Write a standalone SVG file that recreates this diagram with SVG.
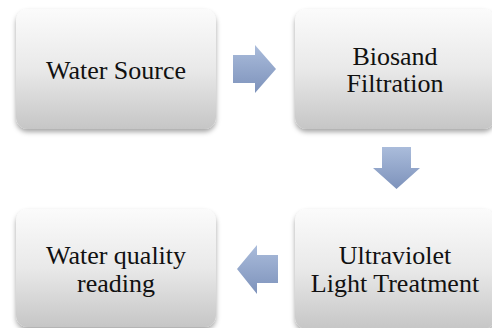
<svg xmlns="http://www.w3.org/2000/svg" width="492" height="328" viewBox="0 0 492 328">
<defs>
<linearGradient id="boxg" x1="0" y1="0" x2="0" y2="1">
<stop offset="0" stop-color="#fbfbfb"/>
<stop offset="0.5" stop-color="#e9e9e9"/>
<stop offset="1" stop-color="#c6c6c6"/>
</linearGradient>
<linearGradient id="arrg" x1="0" y1="0" x2="0" y2="1">
<stop offset="0" stop-color="#aabcdb"/>
<stop offset="1" stop-color="#7d92bb"/>
</linearGradient>
<filter id="sh" x="-10%" y="-10%" width="120%" height="130%">
<feDropShadow dx="0" dy="3" stdDeviation="2.5" flood-color="#000" flood-opacity="0.35"/>
</filter>
</defs>
<style>
.box{fill:url(#boxg);filter:url(#sh);}
.arr{fill:url(#arrg);}
.lbl{font-size:26px;fill:#111;text-anchor:middle;}
</style>
<rect width="492" height="328" fill="#fff"/>
<g id="connectors">
<polygon class="arr" points="233,55 255,55 255,45 276,69 255,93 255,83 233,83"/>
<polygon class="arr" points="382,147 411,147 411,168 420,168 396.5,189 373,168 382,168"/>
<polygon class="arr" points="278,255 257,255 257,245 237,269 257,294 257,283 278,283"/>
</g>
<g font-family="Liberation Serif, DejaVu Serif, serif">
<g id="water-source">
<rect class="box" x="16" y="9" width="200" height="120" rx="12"/>
<text class="lbl" x="116" y="79">Water Source</text>
</g>
<g id="biosand">
<rect class="box" x="295" y="9" width="200" height="120" rx="12"/>
<text class="lbl" x="395" y="65">Biosand</text>
<text class="lbl" x="395" y="92">Filtration</text>
</g>
<g id="uv">
<rect class="box" x="295" y="209" width="200" height="120" rx="12"/>
<text class="lbl" x="395" y="264">Ultraviolet</text>
<text class="lbl" x="395" y="292">Light Treatment</text>
</g>
<g id="quality">
<rect class="box" x="16" y="209" width="200" height="118" rx="12"/>
<text class="lbl" x="116" y="264">Water quality</text>
<text class="lbl" x="116" y="292">reading</text>
</g>
</g>
</svg>
